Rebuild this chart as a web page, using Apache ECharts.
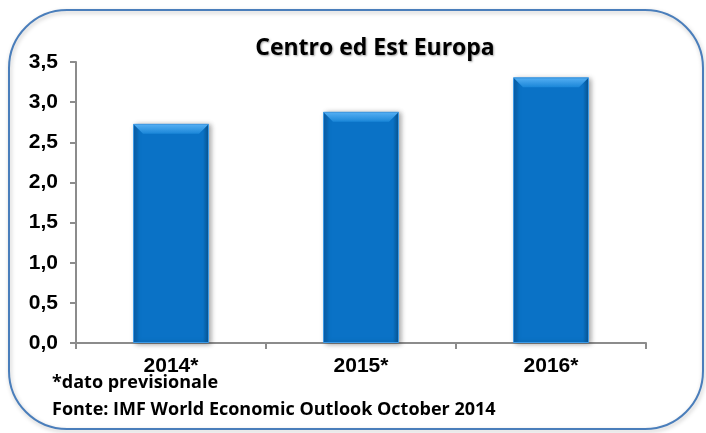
<!DOCTYPE html>
<html lang="it">
<head>
	<meta charset="UTF-8">
	<title>Centro ed Est Europa</title>
	<script src="https://cdn.jsdelivr.net/npm/echarts@6/dist/echarts.min.js"></script>
	<style>
		html, body { margin: 0; padding: 0; background: #fff; }
		#main { width: 706px; height: 433px; }
	</style>
</head>
<body>
	<div id="main"></div>
	<script type="text/javascript">
		// dati
		var anni = ['2014*', '2015*', '2016*'];
		var crescita = [2.73, 2.88, 3.31];
		var titolo = 'Centro ed Est Europa';
		var note = ['*dato previsionale', 'Fonte: IMF World Economic Outlook October 2014'];

		var myChart = echarts.init(document.getElementById('main'));

		// smusso chiaro in cima alle barre (effetto bevel di Excel)
		function bevel(params, api) {
			var top = api.coord([api.value(0), api.value(1)]);
			var half = 38, d = 10;
			return {
				type: 'polygon',
				shape: {
					points: [
						[top[0] - half + 1, top[1] + 1],
						[top[0] + half - 1, top[1] + 1],
						[top[0] + half - d, top[1] + d],
						[top[0] - half + d, top[1] + d]
					]
				},
				style: {
					fill: new echarts.graphic.LinearGradient(0, 0, 0, 1, [
						{ offset: 0, color: '#52adf2' },
						{ offset: 1, color: '#1a86d8' }
					])
				},
				silent: true
			};
		}

		var option = {
			backgroundColor: '#fff',
			animation: false,
			title: {
				text: titolo,
				left: 370,
				top: 32,
				textAlign: 'center',
				textStyle: {
					fontFamily: 'Open Sans',
					fontWeight: 'bold',
					fontSize: 23,
					color: '#000',
					textShadowColor: 'rgba(0,0,0,0.35)',
					textShadowBlur: 2,
					textShadowOffsetX: 1,
					textShadowOffsetY: 1
				}
			},
			grid: { left: 76, right: 60, top: 62, bottom: 90 },
			xAxis: {
				type: 'category',
				data: anni,
				axisLine: { lineStyle: { color: '#8c8c8c', width: 2 } },
				axisTick: { show: true, length: 6, lineStyle: { color: '#8c8c8c', width: 2 } },
				axisLabel: {
					margin: 13,
					color: '#000',
					fontFamily: 'Liberation Sans',
					fontWeight: 'bold',
					fontSize: 21
				}
			},
			yAxis: {
				type: 'value',
				min: 0,
				max: 3.5,
				interval: 0.5,
				splitLine: { show: false },
				axisLine: { show: true, lineStyle: { color: '#8c8c8c', width: 2 } },
				axisTick: { show: true, length: 6, lineStyle: { color: '#8c8c8c', width: 2 } },
				axisLabel: {
					margin: 18,
					color: '#000',
					fontFamily: 'Liberation Sans',
					fontWeight: 'bold',
					fontSize: 21,
					formatter: function (v) { return v.toFixed(1).replace('.', ','); }
				}
			},
			series: [{
				type: 'bar',
				data: crescita,
				barWidth: 76,
				itemStyle: {
					color: new echarts.graphic.LinearGradient(0, 0, 1, 0, [
						{ offset: 0, color: '#0a5ea8' },
						{ offset: 0.08, color: '#0a72c6' },
						{ offset: 0.92, color: '#0a72c6' },
						{ offset: 1, color: '#07528f' }
					]),
					borderColor: '#3d9ae6',
					borderWidth: 1,
					shadowColor: 'rgba(0,0,0,0.35)',
					shadowBlur: 5,
					shadowOffsetX: 2,
					shadowOffsetY: 1
				}
			}, {
				type: 'custom',
				renderItem: bevel,
				data: crescita.map(function (v, i) { return [i, v]; }),
				z: 3
			}],
			graphic: [
				{
					type: 'rect',
					shape: { x: 9, y: 10, width: 694, height: 419, r: 58 },
					style: {
						fill: 'none',
						stroke: '#4a7ebb',
						lineWidth: 2,
						shadowColor: 'rgba(0,0,0,0.25)',
						shadowBlur: 4,
						shadowOffsetX: 1,
						shadowOffsetY: 2
					},
					silent: true
				},
				{
					type: 'text',
					left: 52,
					top: 374,
					style: {
						text: note[0],
						font: 'bold 18px "Open Sans"',
						fill: '#000'
					}
				},
				{
					type: 'text',
					left: 52,
					top: 401,
					style: {
						text: note[1],
						font: 'bold 18px "Open Sans"',
						fill: '#000'
					}
				}
			]
		};

		myChart.setOption(option);
	</script>
</body>
</html>
